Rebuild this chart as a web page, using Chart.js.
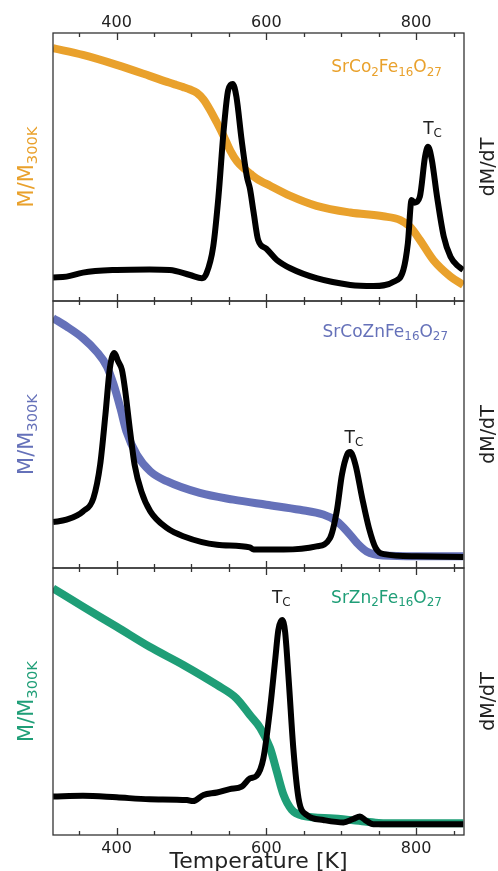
<!DOCTYPE html>
<html><head><meta charset="utf-8">
<script src="https://cdn.jsdelivr.net/npm/chart.js@4.4.0/dist/chart.umd.min.js"></script>
<style>
html,body{margin:0;padding:0;background:#fff;width:498px;height:871px;overflow:hidden;position:relative}
canvas{position:absolute;left:0}
</style></head><body>
<canvas id="c1" width="498" height="310" style="top:0px"></canvas>
<canvas id="c2" width="498" height="285" style="top:292px"></canvas>
<canvas id="c3" width="498" height="320" style="top:560px"></canvas>
<script>
// ---- axis ----
const xMin = 315, xMax = 864;
const xTickLabels = [400, 600, 800];
const xMinorTicks = [350, 450, 500, 550, 650, 700, 750, 850];
const xTitle = 'Temperature [K]';

// ---- SrCo2Fe16O27 (top) ----
const tempCoM = [315,355,400,444,470,480,489,498,507,516,525,534,543,552,561,570,579,587,605,632,667,712,756,779,792,805,823,846,863];
const magCo   = [.943,.918,.881,.840,.815,.806,.798,.789,.777,.752,.712,.665,.615,.560,.520,.495,.474,.457,.430,.392,.355,.330,.316,.302,.277,.228,.153,.091,.060];
const tempCoD = [315,333,355,400,444,471,498,514,520,529,536,543,549,555,560,567,574,578,583,589,600,614,632,667,712,743,770,783,789,794,798,805,812,816,821,828,837,846,857,863];
const dmdtCo  = [.088,.091,.106,.116,.118,.116,.097,.085,.103,.203,.389,.638,.787,.810,.762,.600,.464,.420,.330,.228,.195,.153,.122,.085,.060,.056,.072,.116,.215,.377,.367,.389,.539,.576,.527,.389,.240,.165,.128,.116];

// ---- SrCoZnFe16O27 (middle) ----
const tempCoZnM = [315,333,355,373,387,396,405,413,427,445,467,511,556,600,645,676,694,708,721,734,756,801,863];
const magCoZn   = [.936,.905,.861,.811,.755,.687,.599,.512,.424,.362,.325,.281,.256,.237,.218,.200,.175,.137,.094,.062,.047,.044,.044];
const tempCoZnD = [315,333,355,369,378,385,391,397,402,407,411,418,424,433,445,467,489,534,578,583,623,667,685,694,701,708,712,719,728,737,746,757,801,863];
const dmdtCoZn  = [.172,.181,.212,.262,.387,.574,.749,.805,.774,.743,.674,.512,.387,.287,.212,.150,.119,.087,.077,.069,.069,.081,.112,.212,.350,.425,.434,.387,.262,.150,.075,.052,.044,.041];

// ---- SrZn2Fe16O27 (bottom) ----
const tempZnM = [315,355,400,444,489,534,560,578,592,605,614,623,634,649,690,734,756,863];
const magZn   = [.924,.855,.780,.705,.637,.562,.512,.449,.400,.325,.237,.150,.094,.072,.062,.050,.044,.044];
const tempZnD = [315,355,400,444,494,502,516,534,551,567,578,587,596,605,612,616,621,625,630,636,643,654,676,703,716,725,732,743,863];
const dmdtZn  = [.144,.147,.141,.134,.131,.127,.150,.159,.172,.181,.212,.222,.287,.474,.662,.768,.805,.762,.574,.325,.137,.075,.056,.047,.060,.069,.056,.040,.040];

const FONT = '"DejaVu Sans", sans-serif';
const INK = '#222';

function pts(xs, ys){ return xs.map((x,i)=>({x:x, y:ys[i]})); }

function richWidth(ctx, parts, size){
  let w = 0;
  for (const [t, sub] of parts){ ctx.font = (sub? size*0.7 : size) + 'px ' + FONT; w += ctx.measureText(t).width; }
  return w;
}
function drawRich(ctx, parts, x, y, size, color, align){
  const w = richWidth(ctx, parts, size);
  let cx = align === 'right' ? x - w : align === 'center' ? x - w/2 : x;
  ctx.fillStyle = color; ctx.textBaseline = 'alphabetic'; ctx.textAlign = 'left';
  for (const [t, sub] of parts){
    const s = sub ? size*0.7 : size;
    ctx.font = s + 'px ' + FONT;
    ctx.fillText(t, cx, y + (sub ? size*0.2 : 0));
    cx += ctx.measureText(t).width;
  }
}

function makeDeco(cfg){
  return {
    id: 'deco',
    afterDatasetsDraw(chart){
      const ctx = chart.ctx, a = chart.chartArea, xs = chart.scales.x, yD = chart.scales.yD;
      ctx.save();
      // frame
      ctx.strokeStyle = '#333'; ctx.lineWidth = 1.3;
      ctx.strokeRect(a.left, a.top, a.right - a.left, a.bottom - a.top);
      // inward ticks, top and bottom
      const all = xTickLabels.map(v=>[v,7]).concat(xMinorTicks.map(v=>[v,4]));
      for (const [v, len] of all){
        const px = Math.round(xs.getPixelForValue(v)) + 0.5;
        ctx.beginPath();
        ctx.moveTo(px, a.top); ctx.lineTo(px, a.top + len);
        ctx.moveTo(px, a.bottom); ctx.lineTo(px, a.bottom - len);
        ctx.stroke();
      }
      // compound label (axes fraction coords)
      drawRich(ctx, cfg.name, a.left + cfg.nameX*(a.right-a.left), a.bottom - cfg.nameY*(a.bottom-a.top), 17, cfg.color, 'right');
      // Tc label (data coords)
      drawRich(ctx, [['T',false],['C',true]], xs.getPixelForValue(cfg.tcT), yD.getPixelForValue(cfg.tcY), 17, INK, 'center');
      // y labels
      const mid = (a.top + a.bottom)/2;
      ctx.save(); ctx.translate(33, mid); ctx.rotate(-Math.PI/2);
      drawRich(ctx, [['M/M',false],['300K',true]], 0, 0, 21, cfg.color, 'center');
      ctx.restore();
      ctx.save(); ctx.translate(494, mid); ctx.rotate(-Math.PI/2);
      drawRich(ctx, [['dM/dT',false]], 0, 0, 19, INK, 'center');
      ctx.restore();
      ctx.restore();
    }
  };
}

function makeChart(id, cfg){
  const common = {pointRadius:0, fill:false, cubicInterpolationMode:'monotone', borderJoinStyle:'round', clip:0};
  return new Chart(document.getElementById(id), {
    type:'line',
    data:{datasets:[
      Object.assign({data:pts(cfg.tD, cfg.d), borderColor:'#000', borderWidth:6, yAxisID:'yD', order:0}, common),
      Object.assign({data:pts(cfg.tM, cfg.m), borderColor:cfg.color, borderWidth:8, yAxisID:'yM', order:1}, common)
    ]},
    options:{
      responsive:false, animation:false, events:[],
      layout:{padding:cfg.padding},
      plugins:{legend:{display:false}, tooltip:{enabled:false}},
      scales:{
        x:{type:'linear', min:xMin, max:xMax, position:cfg.xPos, display:cfg.xDisplay,
           grid:{display:false, drawTicks:false}, border:{display:false},
           ticks:{font:{family:FONT, size:16}, color:INK, padding:cfg.tickPad, maxRotation:0, autoSkip:false},
           afterBuildTicks:s=>{ s.ticks = xTickLabels.map(v=>({value:v})); },
           afterFit:s=>{ if (cfg.axisH) s.height = cfg.axisH; },
           title: cfg.title || {display:false}},
        yM:{type:'linear', min:0, max:1, display:false, position:'left'},
        yD:{type:'linear', min:0, max:1, display:false, position:'right'}
      }
    },
    plugins:[makeDeco(cfg)]
  });
}

makeChart('c1', {tM:tempCoM, m:magCo, tD:tempCoD, d:dmdtCo, color:'#E9A12C',
  name:[['SrCo',false],['2',true],['Fe',false],['16',true],['O',false],['27',true]], nameX:0.946, nameY:0.854,
  tcT:822, tcY:0.623, padding:{top:0,left:53,right:34,bottom:9}, xPos:'top', xDisplay:true, tickPad:1, axisH:33});

makeChart('c2', {tM:tempCoZnM, m:magCoZn, tD:tempCoZnD, d:dmdtCoZn, color:'#6571B9',
  name:[['SrCoZnFe',false],['16',true],['O',false],['27',true]], nameX:0.961, nameY:0.866,
  tcT:717, tcY:0.468, padding:{top:9,left:53,right:34,bottom:9}, xPos:'bottom', xDisplay:false, tickPad:0});

makeChart('c3', {tM:tempZnM, m:magZn, tD:tempZnD, d:dmdtZn, color:'#1F9E77',
  name:[['SrZn',false],['2',true],['Fe',false],['16',true],['O',false],['27',true]], nameX:0.946, nameY:0.869,
  tcT:620, tcY:0.869, padding:{top:8,left:53,right:34,bottom:0}, xPos:'bottom', xDisplay:true, tickPad:4, axisH:45,
  title:{display:true, text:xTitle, font:{family:FONT, size:22}, color:INK, padding:{top:0,bottom:5}}});
</script>
</body></html>
